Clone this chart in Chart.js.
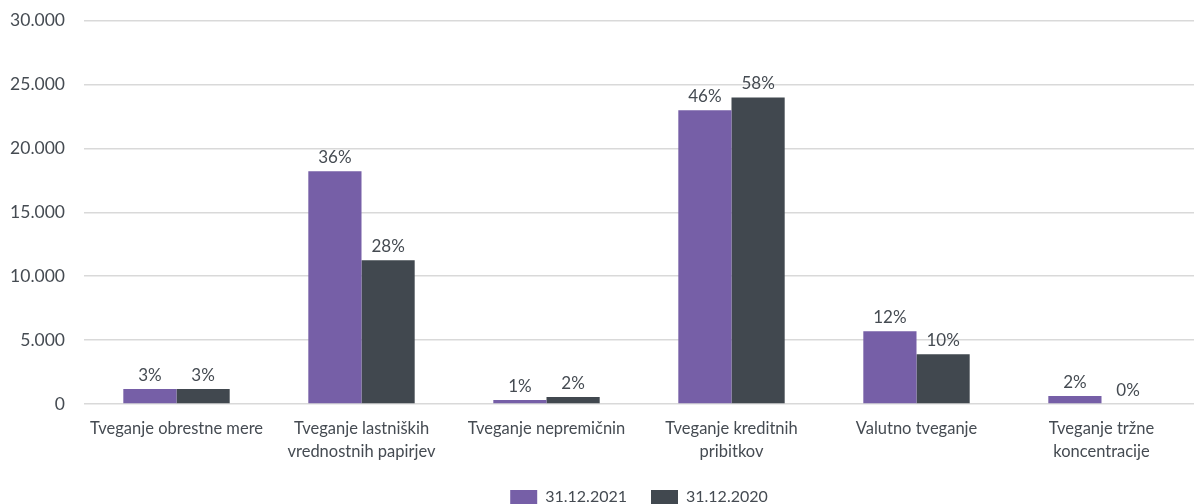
<!DOCTYPE html>
<html>
<head>
<meta charset="utf-8">
<script src="https://cdn.jsdelivr.net/npm/chart.js@4"></script>
<style>
  html, body { margin: 0; padding: 0; background: #fff; overflow: hidden; }
  #wrap { width: 1194px; height: 524px; margin-top: -9px; }
</style>
</head>
<body>
<div id="wrap"><canvas id="riskChart"></canvas></div>
<script>
// Chart data
const categories = [
    'Tveganje obrestne mere',
    ['Tveganje lastniških', 'vrednostnih papirjev'],
    'Tveganje nepremičnin',
    ['Tveganje kreditnih', 'pribitkov'],
    'Valutno tveganje',
    ['Tveganje tržne', 'koncentracije']
];
const values2021 = [1170, 18200, 310, 22970, 5700, 625];
const values2020 = [1170, 11250, 550, 23980, 3900, 0];
const shares2021 = ['3%', '36%', '1%', '46%', '12%', '2%'];
const shares2020 = ['3%', '28%', '2%', '58%', '10%', '0%'];

const textColor = '#454b52';

// Draws the percentage labels above each bar
const shareLabels = {
    id: 'shareLabels',
    afterDatasetsDraw(chart) {
        const ctx = chart.ctx;
        ctx.save();
        ctx.font = '17px Lato';
        ctx.fillStyle = textColor;
        ctx.textAlign = 'center';
        ctx.textBaseline = 'alphabetic';
        chart.data.datasets.forEach((ds, i) => {
            const meta = chart.getDatasetMeta(i);
            meta.data.forEach((bar, j) => {
                ctx.fillText(ds.shares[j], bar.x, bar.y - 8);
            });
        });
        ctx.restore();
    }
};

new Chart(document.getElementById('riskChart').getContext('2d'), {
    type: 'bar',
    data: {
        labels: categories,
        datasets: [
            {
                label: '31.12.2021',
                data: values2021,
                shares: shares2021,
                backgroundColor: '#765fa7',
                categoryPercentage: 0.575,
                barPercentage: 1
            },
            {
                label: '31.12.2020',
                data: values2020,
                shares: shares2020,
                backgroundColor: '#41484f',
                categoryPercentage: 0.575,
                barPercentage: 1
            }
        ]
    },
    options: {
        responsive: true,
        maintainAspectRatio: false,
        animation: false,
        layout: {
            padding: { top: 0, right: 0, left: 0, bottom: 0 }
        },
        plugins: {
            legend: {
                position: 'bottom',
                fullSize: false,
                labels: {
                    boxWidth: 27,
                    boxHeight: 14,
                    padding: 24,
                    color: textColor,
                    font: { family: 'Lato', size: 16 }
                }
            },
            tooltip: { enabled: false }
        },
        scales: {
            y: {
                min: 0,
                max: 30000,
                afterFit: function(scale) { scale.width = 84; },
                border: { display: false },
                grid: {
                    color: '#d9d9d9',
                    lineWidth: 1.5,
                    drawTicks: false
                },
                ticks: {
                    stepSize: 5000,
                    padding: 19,
                    color: textColor,
                    font: { family: 'Lato', size: 17.5 },
                    callback: function(v) {
                        return v.toLocaleString('de-DE');
                    }
                }
            },
            x: {
                border: { display: false },
                grid: { display: false },
                ticks: {
                    maxRotation: 0,
                    autoSkip: false,
                    padding: 6,
                    color: textColor,
                    font: { family: 'Lato', size: 16.5, lineHeight: 1.35 }
                },
                afterFit: function(scale) { scale.height = 61; }
            }
        }
    },
    plugins: [shareLabels]
});
</script>
</body>
</html>
